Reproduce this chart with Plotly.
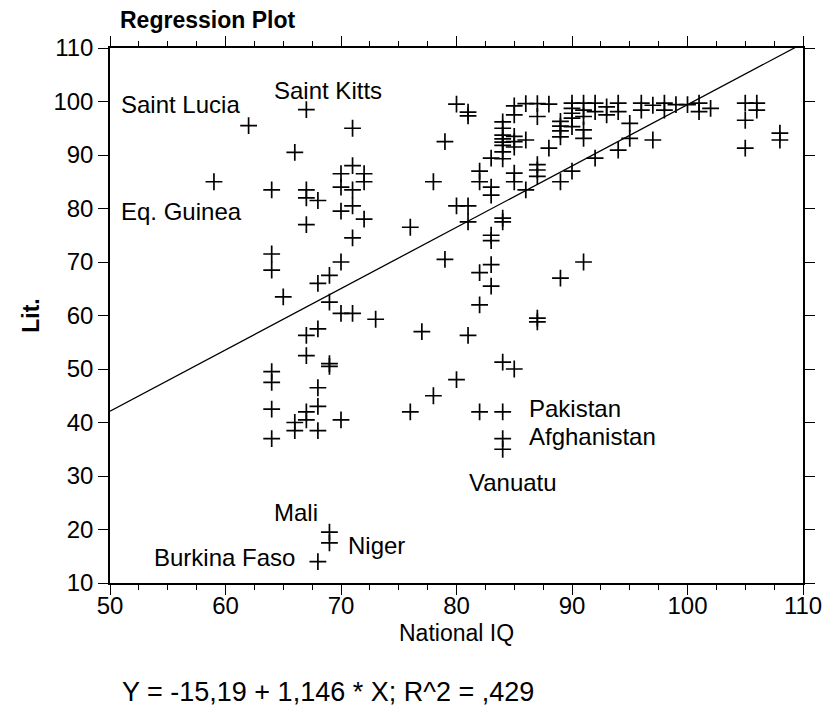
import plotly.graph_objects as go

# National IQ vs. literacy rate, one point per country
iq = [59, 62, 67, 71, 66, 64, 67, 67, 68, 67,
      70, 70, 71, 72, 72, 71, 70, 71, 72, 71,
      64, 64, 70, 69, 68, 65, 69, 70, 71, 73,
      68, 67, 67, 69, 69, 64, 64, 68, 64, 68,
      67, 67, 66, 66, 68, 70, 64, 69, 69, 68,
      76, 78, 80, 82, 84, 84, 84,
      77, 81, 84, 85, 87, 87, 89, 91,
      82, 83, 82, 83, 79, 83, 83, 76,
      80, 81, 81, 84, 84, 78, 82, 82, 83, 83,
      85, 85, 87, 87, 87, 86, 89, 90, 83, 84,
      79, 80, 81, 81,
      84, 84, 84, 84, 84, 84, 84,
      85, 85, 86, 87, 87, 88, 85, 85, 85, 86, 88,
      89, 89, 89, 89, 90, 90, 90, 90, 90,
      91, 91, 91, 91, 91, 92, 92, 93, 93, 94, 94, 95,
      96, 96, 97, 98, 98, 99, 100, 101, 101, 102,
      105, 105, 105, 106, 106, 108, 108,
      92, 94, 95, 97]
lit = [85, 95.5, 98.5, 95, 90.5, 83.5, 83.5, 82, 81.5, 77,
       86.5, 84, 88, 86.5, 85, 83.5, 79.5, 80.5, 78, 74.5,
       71.5, 68.5, 70, 67.5, 66, 63.5, 62.5, 60.4, 60.4, 59.3,
       57.5, 56.3, 52.5, 50.5, 51, 49.5, 47.5, 46.5, 42.5, 43,
       42, 40.5, 40, 38.5, 38.5, 40.5, 37, 19.5, 17.5, 14,
       42, 45, 48, 42, 42, 37, 35,
       57, 56.3, 51.3, 50, 59.5, 58.8, 67, 70,
       62, 65.5, 68, 69.5, 70.5, 75, 74, 76.5,
       80.5, 80.5, 77.5, 78.2, 77.5, 85, 87, 85, 84, 82.5,
       86.6, 85, 88.2, 87.2, 86, 83.5, 85, 87, 89.4, 89.3,
       92.5, 99.5, 98, 97.3,
       96.2, 95, 93.7, 93, 92.4, 91.8, 90.6,
       99.2, 97.5, 99.6, 99.6, 97.2, 99.5, 93.5, 92.5, 91.5, 92.8, 91.3,
       96.3, 95.4, 94.5, 93.4, 99.7, 98.7, 97.8, 96.9, 95.3,
       99.7, 98.4, 97.2, 94.7, 93.1, 99.7, 98.1, 99.0, 97.5, 99.7, 98.1, 95.9,
       99.7, 98.4, 99.3, 99.7, 98.4, 99.4, 99.4, 99.7, 98.1, 98.7,
       99.7, 96.5, 91.3, 99.7, 98.4, 94.1, 92.8,
       89.4, 90.9, 93.1, 92.8]

# fitted line
intercept = -15.19
slope = 1.146
line_x = [50, 110]
line_y = [intercept + slope * v for v in line_x]

# country labels
label_text = ['Saint Lucia', 'Saint Kitts', 'Eq. Guinea', 'Pakistan', 'Afghanistan',
              'Vanuatu', 'Mali', 'Niger', 'Burkina Faso']
label_x = [50.8, 64.0, 50.8, 86.1, 86.1, 80.9, 64.0, 70.4, 53.6]
label_y = [99.5, 102.1, 79.5, 42.7, 37.3, 28.7, 23.1, 17.1, 14.7]

FONT = 'Liberation Sans, Arial, sans-serif'

fig = go.Figure()
fig.add_trace(go.Scatter(
    x=line_x, y=line_y, mode='lines',
    line=dict(color='black', width=1.3), hoverinfo='skip'
))
fig.add_trace(go.Scatter(
    x=iq, y=lit, mode='markers',
    marker=dict(symbol='cross-thin', size=12, line=dict(color='black', width=1.7))
))

for t, x, y in zip(label_text, label_x, label_y):
    fig.add_annotation(x=x, y=y, xref='x', yref='y', text=t, showarrow=False,
                       xanchor='left', yanchor='middle',
                       font=dict(family=FONT, size=24, color='black'))

fig.add_annotation(x=-0.115, y=0.5, xref='paper', yref='paper', text='<b>Lit.</b>',
                   textangle=-90, showarrow=False, xanchor='center', yanchor='middle',
                   font=dict(family=FONT, size=23, color='black'))
fig.add_annotation(x=0.5, y=-0.0935, xref='paper', yref='paper', text='National IQ',
                   showarrow=False, xanchor='center', yanchor='middle',
                   font=dict(family=FONT, size=23, color='black'))
fig.add_annotation(x=0.0144, y=-0.2037, xref='paper', yref='paper',
                   text='Y = -15,19 + 1,146 * X; R^2 = ,429',
                   showarrow=False, xanchor='left', yanchor='middle',
                   font=dict(family=FONT, size=27, color='black'))

axis_common = dict(
    showline=True, linecolor='black', linewidth=1.5, mirror='allticks',
    ticks='outside', ticklen=10, tickwidth=1.2, tickcolor='black',
    showgrid=False, zeroline=False, automargin=False,
    tickfont=dict(family=FONT, size=24, color='black'),
)

# page body adds 8px around the figure
fig.update_layout(
    width=830, height=701,
    margin=dict(l=102, r=35, t=40, b=126, autoexpand=False),
    paper_bgcolor='white', plot_bgcolor='white',
    showlegend=False,
    title=dict(text='<b>Regression Plot</b>', x=112 / 830, xanchor='left',
               y=1 - 12 / 701, yanchor='middle',
               font=dict(family=FONT, size=23, color='black')),
    xaxis=dict(range=[50, 110], dtick=10, tick0=50, ticklabelstandoff=-10,
               minor=dict(dtick=2.5, ticklen=5, ticks='outside', tickcolor='black', tickwidth=1),
               **axis_common),
    yaxis=dict(range=[10, 110], dtick=10, tick0=10, **axis_common),
)

fig.write_html("out.html")
